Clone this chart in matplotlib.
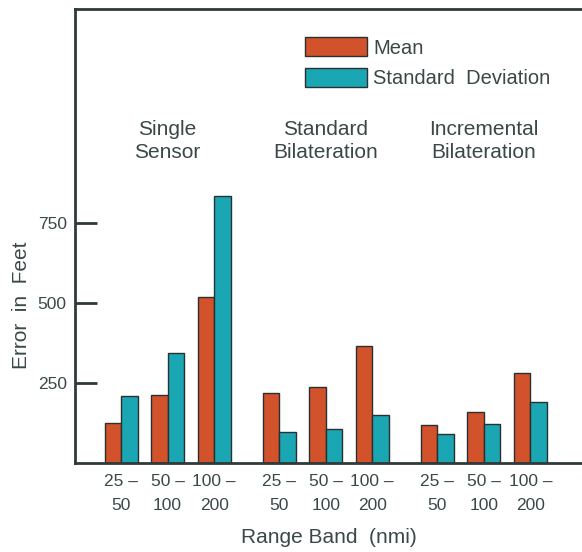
import matplotlib
matplotlib.use("Agg")
import matplotlib.pyplot as plt
import numpy as np

# datos
groups = ["Single\nSensor", "Standard\nBilateration", "Incremental\nBilateration"]
bands = ["25 –\n50", "50 –\n100", "100 –\n200"]
mean_vals = [125, 212, 519, 218, 238, 366, 119, 160, 281]
std_vals = [210, 344, 834, 98, 106, 150, 91, 122, 190]
yticks = [250, 500, 750]

orange = "#d2532b"
teal = "#1aa6b2"
edge = "#2a2f2f"
txt = "#3b4848"

plt.rcParams["font.family"] = ["Liberation Sans", "DejaVu Sans"]

fig = plt.figure(figsize=(5.82, 5.52), dpi=100)
ax = fig.add_axes([75 / 582, 1 - 463 / 552, 1 - 75 / 582, (463 - 9) / 552])

# posiciones de los pares de barras (3 por grupo, hueco entre grupos)
gap = 1.4
pos = []
for g in range(len(groups)):
    for b in range(len(bands)):
        pos.append(g * (2 + gap) + b)
pos = np.array(pos)
w = 0.355

ax.bar(pos - w / 2, mean_vals, w, color=orange, edgecolor=edge, linewidth=1.0, label="Mean")
ax.bar(pos + w / 2, std_vals, w, color=teal, edgecolor=edge, linewidth=1.0, label="Standard  Deviation")

ax.set_xlim(-0.99, 9.91)
ax.set_ylim(0, 1419)

ax.set_yticks(yticks)
ax.set_yticklabels([str(v) for v in yticks], fontsize=12.5, color=txt)
ax.tick_params(axis="y", direction="in", length=16, width=2, color="#2f3a3a", pad=6)

ax.set_xticks(pos)
ax.set_xticklabels(bands * len(groups), fontsize=12.5, color=txt, linespacing=1.7)
ax.tick_params(axis="x", length=0, pad=8)

for s in ["left", "top", "bottom"]:
    ax.spines[s].set_color("#2f3a3a")
    ax.spines[s].set_linewidth(2)
ax.spines["right"].set_visible(False)

ax.set_xlabel("Range Band  (nmi)", fontsize=15, color=txt, labelpad=11)
ax.set_ylabel("Error  in  Feet", fontsize=15, color=txt, labelpad=4)
ax.yaxis.set_label_coords(-0.087, 0.348)

# etiquetas de grupo
for g, name in enumerate(groups):
    cx = g * (2 + gap) + 1
    ax.text(cx, 1006, name, ha="center", va="center", fontsize=15, color=txt, linespacing=1.25)

leg = ax.legend(loc="upper left", bbox_to_anchor=(0.437, 0.956), frameon=False,
                fontsize=14.5, handlelength=3.1, handleheight=1.1, handletextpad=0.3,
                labelspacing=0.5, borderaxespad=0)
for t in leg.get_texts():
    t.set_color(txt)

fig.savefig("out.png", dpi=100)
